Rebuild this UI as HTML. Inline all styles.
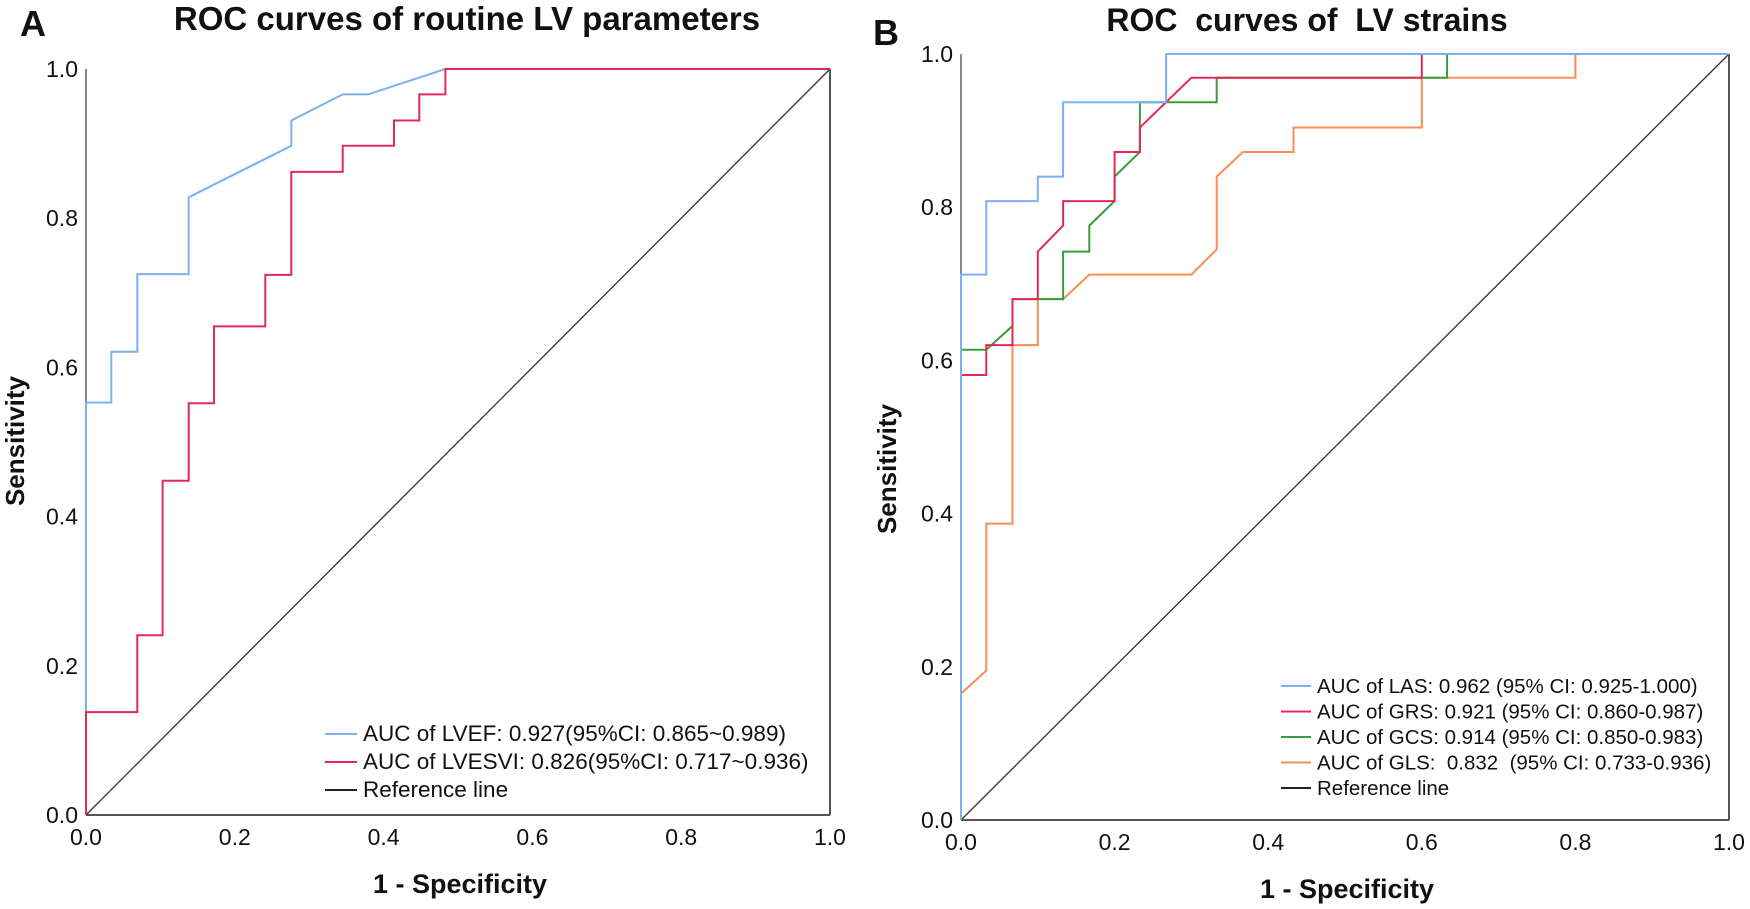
<!DOCTYPE html>
<html><head><meta charset="utf-8"><style>
html,body{margin:0;padding:0;background:#fff;}
svg{display:block;font-family:"Liberation Sans",Arial,sans-serif;}
text{white-space:pre;}
</style></head><body>
<svg id="fig" width="1750" height="909" viewBox="0 0 1750 909">
<g id="panelA"></g>
<g id="panelB"></g>
</svg>
<script>
const NS="http://www.w3.org/2000/svg";
const ticks=[0,0.2,0.4,0.6,0.8,1.0];
const tickLabels=["0.0","0.2","0.4","0.6","0.8","1.0"];
// Panel A data
const lvefX=[0,0,0.034,0.034,0.069,0.069,0.138,0.138,0.276,0.276,0.345,0.379,0.483,1];
const lvefY=[0,0.553,0.553,0.621,0.621,0.725,0.725,0.828,0.897,0.931,0.966,0.966,1,1];
const lvesviX=[0,0,0.069,0.069,0.103,0.103,0.138,0.138,0.172,0.172,0.241,0.241,0.276,0.276,0.345,0.345,0.414,0.414,0.448,0.448,0.483,0.483,1];
const lvesviY=[0,0.138,0.138,0.241,0.241,0.448,0.448,0.552,0.552,0.655,0.655,0.724,0.724,0.862,0.862,0.897,0.897,0.931,0.931,0.966,0.966,1,1];
// Panel B data
const lasX=[0,0,0.033,0.033,0.1,0.1,0.133,0.133,0.267,0.267,1];
const lasY=[0,0.712,0.712,0.808,0.808,0.84,0.84,0.937,0.937,1,1];
const grsX=[0,0,0.033,0.033,0.067,0.067,0.1,0.1,0.133,0.133,0.2,0.2,0.233,0.233,0.3,0.6,0.6,1];
const grsY=[0,0.581,0.581,0.62,0.62,0.68,0.68,0.742,0.776,0.808,0.808,0.872,0.872,0.904,0.969,0.969,1,1];
const gcsX=[0,0,0.033,0.067,0.067,0.133,0.133,0.167,0.167,0.2,0.2,0.233,0.233,0.333,0.333,0.633,0.633,1];
const gcsY=[0,0.614,0.614,0.645,0.68,0.68,0.742,0.742,0.776,0.808,0.84,0.872,0.937,0.937,0.969,0.969,1,1];
const glsX=[0,0,0.033,0.033,0.067,0.067,0.1,0.1,0.133,0.167,0.3,0.333,0.333,0.367,0.433,0.433,0.6,0.6,0.8,0.8,1];
const glsY=[0,0.165,0.195,0.387,0.387,0.62,0.62,0.68,0.68,0.712,0.712,0.745,0.84,0.872,0.872,0.904,0.904,0.969,0.969,1,1];

function el(parent,tag,attrs,text){const e=document.createElementNS(NS,tag);for(const k in attrs)e.setAttribute(k,attrs[k]);if(text!==undefined)e.textContent=text;parent.appendChild(e);return e;}

function panel(g,cfg){
  const sx=v=>cfg.x0+v*(cfg.x1-cfg.x0);
  const sy=v=>cfg.y0-v*(cfg.y0-cfg.y1);
  const ax=el(g,'line',{x1:cfg.x0,y1:cfg.y1,x2:cfg.x0,y2:cfg.y0,stroke:'#888','stroke-width':2});
  
  
  const bx=el(g,'line',{x1:cfg.x0,y1:cfg.y0,x2:cfg.x1,y2:cfg.y0,stroke:'#555','stroke-width':2});
  
  
  const rx=el(g,'line',{x1:cfg.x1,y1:cfg.y1,x2:cfg.x1,y2:cfg.y0,stroke:'#555','stroke-width':2});
  
  
  ticks.forEach((t,i)=>{
    const yl=el(g,'text',{x:cfg.x0-8,y:sy(t)+8,'text-anchor':'end','font-size':23,fill:'#111'},tickLabels[i]);
    
    
    const xl=el(g,'text',{x:sx(t),y:cfg.y0+30,'text-anchor':'middle','font-size':23,fill:'#111'},tickLabels[i]);
    
    
  });
  const ref=el(g,'line',{x1:sx(0),y1:sy(0),x2:sx(1),y2:sy(1),stroke:'#333','stroke-width':1.3});
  
  
  cfg.series.forEach(s=>{
    const pts=s.x.map((v,i)=>sx(v).toFixed(1)+','+sy(s.y[i]).toFixed(1)).join(' ');
    const p=el(g,'polyline',{points:pts,fill:'none',stroke:s.color,'stroke-width':2});
    
    
  });
  const t=el(g,'text',{x:cfg.titleX,y:cfg.titleY,'text-anchor':'middle','font-size':cfg.titleFS,'font-weight':'bold',fill:'#111'},cfg.title);
  
  
  const lt=el(g,'text',{x:cfg.letterX,y:cfg.letterY,'font-size':36,'font-weight':'bold',fill:'#111'},cfg.letter);
  
  
  const xt=el(g,'text',{x:cfg.xtX,y:cfg.xtY,'text-anchor':'middle','font-size':27,'font-weight':'bold',fill:'#111'},'1 - Specificity');
  
  
  const yt=el(g,'text',{x:0,y:0,'text-anchor':'middle','font-size':26,'font-weight':'bold',fill:'#111',transform:`translate(${cfg.ytX},${cfg.ytY}) rotate(-90)`},'Sensitivity');
  
  
  cfg.legend.forEach((L,i)=>{
    const y=cfg.legY+i*cfg.legDY;
    const ll=el(g,'line',{x1:cfg.legX1,y1:y-7,x2:cfg.legX2,y2:y-7,stroke:L.color,'stroke-width':2});
    
    
    const lx=el(g,'text',{x:cfg.legX2+6,y:y,'font-size':cfg.legFS,fill:'#111'},L.label);
    
    
  });
}

panel(document.getElementById('panelA'),{
  x0:86,x1:830,y0:815,y1:69,title:'ROC curves of routine LV parameters',titleX:467,titleY:30,titleFS:33,letter:'A',letterX:20,letterY:36,
  xtX:460,xtY:893,ytX:24,ytY:441,
  series:[{x:lvefX,y:lvefY,color:'#7cb0ee',name:'lvef-curve'},{x:lvesviX,y:lvesviY,color:'#e3285a',name:'lvesvi-curve'}],
  legX1:325,legX2:357,legY:741,legDY:28,legFS:22.5,
  legend:[{color:'#7cb0ee',label:'AUC of LVEF: 0.927(95%CI: 0.865~0.989)'},{color:'#e3285a',label:'AUC of LVESVI: 0.826(95%CI: 0.717~0.936)'},{color:'#222',label:'Reference line'}]
});
panel(document.getElementById('panelB'),{
  x0:961,x1:1729,y0:820,y1:54,title:'ROC  curves of  LV strains',titleX:1307,titleY:31,titleFS:32,letter:'B',letterX:873,letterY:45,
  xtX:1347,xtY:898,ytX:896,ytY:469,
  series:[{x:glsX,y:glsY,color:'#f98d52',name:'gls-curve'},{x:gcsX,y:gcsY,color:'#3d9b3d',name:'gcs-curve'},{x:grsX,y:grsY,color:'#e3285a',name:'grs-curve'},{x:lasX,y:lasY,color:'#7cb0ee',name:'las-curve'}],
  legX1:1281,legX2:1311,legY:693,legDY:25.5,legFS:20.5,
  legend:[{color:'#7cb0ee',label:'AUC of LAS: 0.962 (95% CI: 0.925-1.000)'},{color:'#e3285a',label:'AUC of GRS: 0.921 (95% CI: 0.860-0.987)'},{color:'#3d9b3d',label:'AUC of GCS: 0.914 (95% CI: 0.850-0.983)'},{color:'#f98d52',label:'AUC of GLS:  0.832  (95% CI: 0.733-0.936)'},{color:'#222',label:'Reference line'}]
});
</script>
</body></html>
